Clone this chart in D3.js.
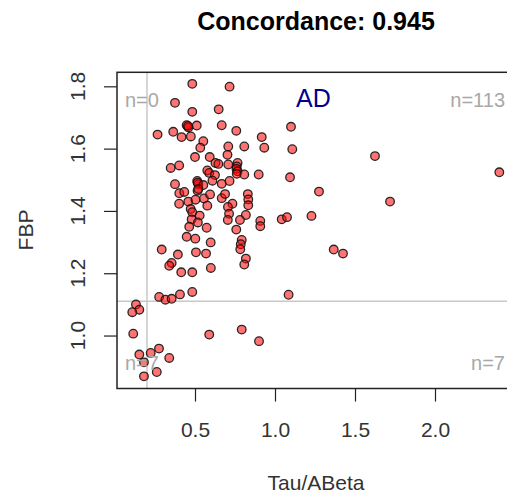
<!DOCTYPE html>
<html>
<head>
<meta charset="utf-8">
<script src="https://cdn.jsdelivr.net/npm/d3@7"></script>
<style>
  body { margin: 0; background: #fff; }
  svg { display: block; font-family: "Liberation Sans", Arial, sans-serif; }
</style>
</head>
<body>
<div id="chart"></div>
<script>
// Tau/ABeta vs FBP, one entry per subject
const tauAbeta = [
  0.483,0.716,0.375,0.483,0.648,0.448,0.459,0.456,0.511,0.667,
  0.266,0.364,0.416,0.474,0.552,0.533,0.708,0.808,0.917,0.933,
  1.100,0.758,1.108,0.500,0.592,0.703,0.628,0.646,0.708,0.766,
  0.761,0.759,0.766,0.761,0.348,0.401,0.577,0.589,0.625,0.808,
  0.898,1.094,0.375,0.514,0.521,0.516,0.552,0.609,0.667,0.716,
  0.402,0.433,0.516,0.556,0.594,0.667,0.688,0.830,0.833,0.833,
  0.401,0.458,0.503,0.577,0.734,0.706,0.473,0.483,0.529,0.713,
  0.818,0.479,0.518,0.705,0.781,0.908,0.908,1.042,1.075,1.228,
  0.464,0.573,0.758,0.448,0.502,0.598,0.792,0.786,0.783,0.292,
  0.393,0.506,0.569,0.354,0.339,0.818,0.808,0.414,0.483,0.599,
  0.276,0.315,0.354,0.406,0.483,1.085,1.625,2.402,1.275,1.719,
  1.367,1.425,0.521,
  0.589,0.792,0.900,0.339,0.275,0.223,0.261,
  0.131,0.152,0.108,0.114,0.152,0.181,0.181
];
const fbp = [
  1.808,1.799,1.747,1.718,1.726,1.675,1.668,1.673,1.674,1.675,
  1.645,1.654,1.637,1.639,1.624,1.603,1.607,1.607,1.637,1.603,
  1.670,1.657,1.598,1.573,1.573,1.580,1.554,1.551,1.549,1.554,
  1.543,1.535,1.527,1.519,1.538,1.546,1.530,1.522,1.515,1.517,
  1.517,1.508,1.486,1.496,1.486,1.491,1.483,1.497,1.487,1.496,
  1.457,1.461,1.465,1.440,1.453,1.441,1.454,1.454,1.437,1.418,
  1.423,1.430,1.436,1.417,1.423,1.413,1.406,1.396,1.385,1.391,
  1.387,1.373,1.363,1.371,1.371,1.368,1.351,1.373,1.380,1.384,
  1.349,1.346,1.340,1.317,1.311,1.299,1.307,1.293,1.277,1.276,
  1.260,1.267,1.263,1.233,1.224,1.247,1.228,1.203,1.203,1.217,
  1.124,1.115,1.118,1.132,1.140,1.131,1.576,1.524,1.462,1.430,
  1.276,1.263,1.470,
  1.003,1.019,0.982,0.928,0.958,0.944,0.883,
  1.100,1.083,1.075,1.006,0.939,0.914,0.869
];
const xTicks = [0.5, 1.0, 1.5, 2.0];
const yTicks = [1.0, 1.2, 1.4, 1.6, 1.8];
const cutoffs = [0.2, 1.11]; // Tau/ABeta, FBP
const groupLabel = "AD";

const width = 507, height = 498;
const font = '"Liberation Sans", Arial, sans-serif';
const labelSize = '21px';

const x = d3.scaleLinear().domain([0.0125, 2.5]).range([117, 515]);
const y = d3.scaleLinear().domain([0.83, 1.845]).range([388.5, 72.3]);

const points = tauAbeta.map((v, i) => ({x: v, y: fbp[i]}));

// quadrant counts
const ul = points.filter(d => d.x < cutoffs[0] && d.y >= cutoffs[1]).length;
const ur = points.filter(d => d.x >= cutoffs[0] && d.y >= cutoffs[1]).length;
const ll = points.filter(d => d.x < cutoffs[0] && d.y < cutoffs[1]).length;
const lr = points.filter(d => d.x >= cutoffs[0] && d.y < cutoffs[1]).length;
const concordance = (ur + ll) / points.length;

const svg = d3.select('#chart')
  .append('svg')
  .attr('width', width)
  .attr('height', height);

// title
svg.append('text')
  .attr('x', 316)
  .attr('y', 30)
  .attr('text-anchor', 'middle')
  .style('font-size', '25px')
  .style('font-weight', 'bold')
  .attr('fill', '#000')
  .text('Concordance: ' + concordance.toFixed(3));

// cutoff lines
svg.append('line')
  .attr('x1', x(cutoffs[0])).attr('x2', x(cutoffs[0]))
  .attr('y1', y.range()[0]).attr('y2', y.range()[1])
  .attr('stroke', '#c8c8c8').attr('stroke-width', 1.5);
svg.append('line')
  .attr('x1', x.range()[0]).attr('x2', x.range()[1])
  .attr('y1', y(cutoffs[1])).attr('y2', y(cutoffs[1]))
  .attr('stroke', '#c8c8c8').attr('stroke-width', 1.5);

// points
svg.append('g')
  .selectAll('circle')
  .data(points)
  .enter()
  .append('circle')
  .attr('cx', d => x(d.x))
  .attr('cy', d => y(d.y))
  .attr('r', 4.3)
  .attr('fill', 'rgba(255,0,0,0.55)')
  .attr('stroke', 'rgba(20,20,20,0.9)')
  .attr('stroke-width', 1.3);

// box
svg.append('rect')
  .attr('x', x.range()[0])
  .attr('y', y.range()[1])
  .attr('width', x.range()[1] - x.range()[0])
  .attr('height', y.range()[0] - y.range()[1])
  .attr('fill', 'none')
  .attr('stroke', '#222')
  .attr('stroke-width', 1.5);

// x axis
const xAxis = svg.append('g')
  .attr('transform', 'translate(0,' + y.range()[0] + ')')
  .call(d3.axisBottom(x).tickValues(xTicks).tickSize(13).tickPadding(21)
    .tickFormat(d3.format('.1f')));
xAxis.select('.domain').remove();
xAxis.selectAll('line').attr('stroke', '#222').attr('stroke-width', 1.2);
xAxis.selectAll('text')
  .attr('fill', '#333')
  .style('font-family', font)
  .style('font-size', labelSize);

// y axis
const yAxis = svg.append('g')
  .attr('transform', 'translate(' + x.range()[0] + ',0)')
  .call(d3.axisLeft(y).tickValues(yTicks).tickSize(13).tickFormat(''));
yAxis.select('.domain').remove();
yAxis.selectAll('line').attr('stroke', '#222').attr('stroke-width', 1.2);

svg.append('g')
  .selectAll('text')
  .data(yTicks)
  .enter()
  .append('text')
  .attr('transform', d => 'translate(85,' + y(d) + ') rotate(-90)')
  .attr('text-anchor', 'middle')
  .attr('fill', '#333')
  .style('font-size', labelSize)
  .text(d3.format('.1f'));

// axis titles
svg.append('text')
  .attr('x', 316)
  .attr('y', 490)
  .attr('text-anchor', 'middle')
  .attr('fill', '#333')
  .style('font-size', labelSize)
  .text('Tau/ABeta');

svg.append('text')
  .attr('transform', 'translate(33,230) rotate(-90)')
  .attr('text-anchor', 'middle')
  .attr('fill', '#333')
  .style('font-size', labelSize)
  .text('FBP');

// group label
svg.append('text')
  .attr('x', 296)
  .attr('y', 107)
  .attr('fill', '#00008b')
  .style('font-size', '25px')
  .text(groupLabel);

// quadrant counts
const countStyle = sel => sel.attr('fill', '#a8a8a8').style('font-size', '20px');
svg.append('text').attr('x', 125).attr('y', 107).call(countStyle).text('n=' + ul);
svg.append('text').attr('x', 505).attr('y', 107).attr('text-anchor', 'end').call(countStyle).text('n=' + ur);
svg.append('text').attr('x', 125).attr('y', 370).call(countStyle).text('n=' + ll);
svg.append('text').attr('x', 505).attr('y', 370).attr('text-anchor', 'end').call(countStyle).text('n=' + lr);
</script>
</body>
</html>
